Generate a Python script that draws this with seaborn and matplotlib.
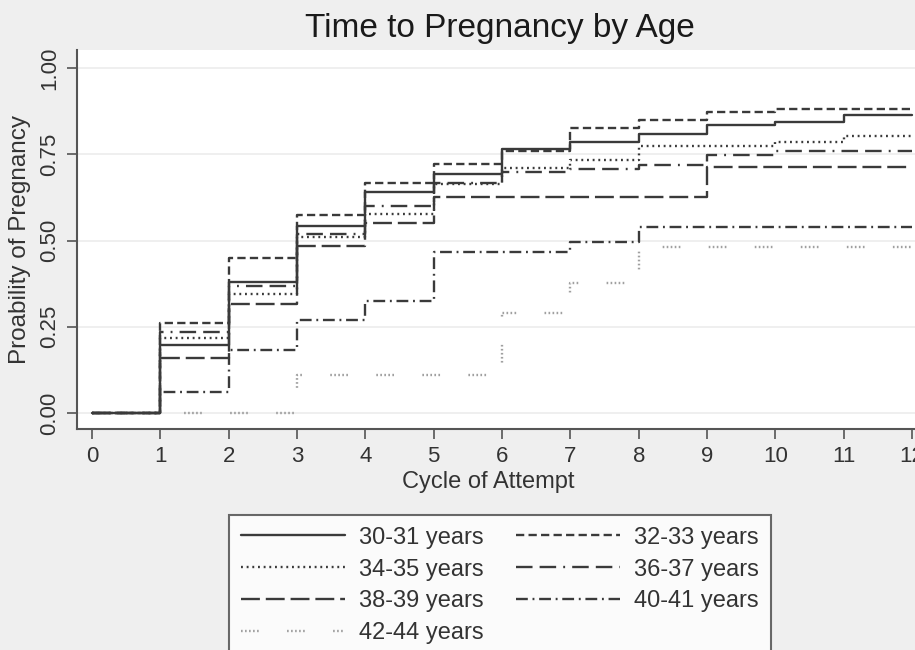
import matplotlib
matplotlib.use("Agg")
import matplotlib.pyplot as plt
import seaborn as sns

# cycle of attempt (step starts)
cycles = [0, 1, 2, 3, 4, 5, 6, 7, 8, 9, 10, 11, 12]

# cumulative probability of pregnancy
p_30_31 = [0, 0.198, 0.381, 0.541, 0.642, 0.692, 0.764, 0.785, 0.810, 0.834, 0.843, 0.863, 0.863]
p_32_33 = [0, 0.262, 0.450, 0.573, 0.668, 0.721, 0.760, 0.825, 0.849, 0.872, 0.881, 0.881, 0.881]
p_34_35 = [0, 0.218, 0.346, 0.510, 0.578, 0.664, 0.709, 0.733, 0.773, 0.773, 0.785, 0.802, 0.802]
p_36_37 = [0, 0.235, 0.369, 0.520, 0.600, 0.668, 0.700, 0.706, 0.718, 0.747, 0.759, 0.759, 0.759]
p_38_39 = [0, 0.160, 0.317, 0.483, 0.552, 0.625, 0.625, 0.625, 0.625, 0.712, 0.712, 0.712, 0.712]
p_40_41 = [0, 0.061, 0.183, 0.270, 0.326, 0.468, 0.468, 0.497, 0.540, 0.540, 0.540, 0.540, 0.540]
p_42_44 = [0, 0.000, 0.000, 0.110, 0.110, 0.110, 0.290, 0.378, 0.480, 0.480, 0.480, 0.480, 0.480]

groups = ["30-31 years", "32-33 years", "34-35 years", "36-37 years",
          "38-39 years", "40-41 years", "42-44 years"]
series = [p_30_31, p_32_33, p_34_35, p_36_37, p_38_39, p_40_41, p_42_44]

# stata-ish monochrome line patterns
styles = {
    "30-31 years": "-",
    "32-33 years": (0, (3.5, 1.8)),
    "34-35 years": (0, (0.8, 1.6)),
    "36-37 years": (0, (7, 3, 7, 3, 0.8, 3)),
    "38-39 years": (0, (8, 2.5)),
    "40-41 years": (0, (5, 2, 0.8, 2)),
    "42-44 years": (0, (0.7, 1, 0.7, 1, 0.7, 1, 0.7, 1, 0.7, 12)),
}
colors = {g: "#3a3a3a" for g in groups}
colors["42-44 years"] = "#a0a0a0"

sns.set_style("white")
plt.rcParams["font.family"] = ["Liberation Sans", "DejaVu Sans"]

bg = "#efefef"
fig = plt.figure(figsize=(9.15, 6.5), dpi=100, facecolor=bg)
ax = fig.add_axes([77 / 915, 1 - 429 / 650, 1 - 77 / 915 + 0.002, 379 / 650])
ax.set_facecolor("white")

for i, (g, vals) in enumerate(zip(groups, series)):
    # first group drawn on top, like the original
    sns.lineplot(x=cycles, y=vals, ax=ax, drawstyle="steps-post",
                 color=colors[g], linestyle=styles[g], linewidth=1.7,
                 label=g, legend=False, zorder=10 - i)

ax.set_xlim(-0.22, 12.07)
ax.set_ylim(-0.046, 1.052)
ax.set_xticks(range(0, 13))
ax.set_yticks([0, 0.25, 0.5, 0.75, 1.0])
ax.set_yticklabels(["0.00", "0.25", "0.50", "0.75", "1.00"], rotation=90, va="center")
ax.yaxis.grid(True, color="#ececec", linewidth=1.2)
ax.set_axisbelow(True)
for s in ["top", "right"]:
    ax.spines[s].set_visible(False)
for s in ["left", "bottom"]:
    ax.spines[s].set_color("#555555")
    ax.spines[s].set_linewidth(1.5)
ax.tick_params(axis="both", direction="out", length=7, width=1.2, color="#555555",
               labelsize=16, labelcolor="#333333", bottom=True, left=True)
ax.tick_params(axis="y", pad=5)
ax.tick_params(axis="x", pad=5)
ax.set_xlabel("")
ax.set_ylabel("")

fig.text(500 / 915, 1 - 28 / 650, "Time to Pregnancy by Age", ha="center", va="center",
         fontsize=24, color="#1a1a1a")
fig.text(20 / 915, 1 - 240 / 650, "Proability of Pregnancy", rotation=90,
         ha="center", va="center", fontsize=17.5, color="#333333")
fig.text(488 / 915, 1 - 482 / 650, "Cycle of Attempt", ha="center", va="center",
         fontsize=17, color="#333333")

# legend, row-wise order like the original (two columns)
handles, labels = ax.get_legend_handles_labels()
order = [0, 2, 4, 6, 1, 3, 5]
leg = fig.legend([handles[i] for i in order], [labels[i] for i in order],
                 ncol=2, loc="upper center", bbox_to_anchor=(500 / 915, 1 - 503 / 650),
                 fontsize=17, handlelength=4.4, handletextpad=0.6, columnspacing=1.4,
                 labelspacing=0.42, frameon=True, fancybox=False, borderpad=0.5,
                 labelcolor="#333333")
leg.get_frame().set_edgecolor("#444444")
leg.get_frame().set_linewidth(1.5)
leg.get_frame().set_facecolor("white")

fig.savefig("out.png", dpi=100, facecolor=bg)
